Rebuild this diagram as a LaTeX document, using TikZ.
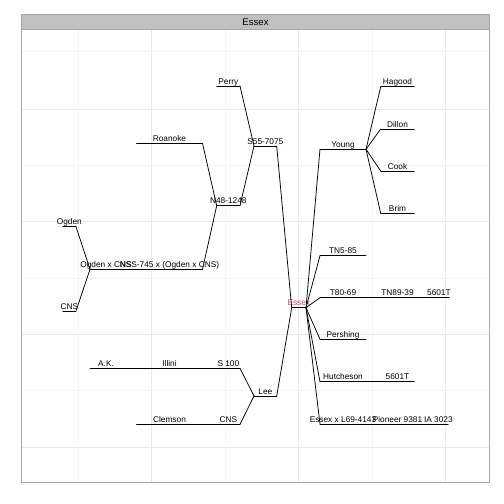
\documentclass[tikz,border=0pt]{standalone}
\usepackage{fontspec}
\setmainfont{Liberation Sans}
\definecolor{stripgray}{RGB}{192,192,192}
\definecolor{framegray}{RGB}{168,168,168}
\definecolor{gridmajor}{RGB}{232,232,232}
\definecolor{gridminor}{RGB}{243,243,243}
\definecolor{selfred}{RGB}{212,70,120}
\tikzset{
  lab/.style={anchor=base, inner sep=0pt, font=\fontsize{8.3}{10}\selectfont},
  link/.style={line width=0.75pt, line cap=round},
}

\begin{document}
\begin{tikzpicture}[x=1pt,y=-1pt]
    \useasboundingbox (0,0) rectangle (504,504);
    % panel, grid and strip
    \fill[white] (21.5,29.5) rectangle (489.5,482);
    \foreach \gx in {78.7,225.7,372} \draw[gridminor,line width=0.5pt] (\gx,29.5) -- (\gx,482);
    \foreach \gx in {151.3,298.3,445.3} \draw[gridmajor,line width=0.7pt] (\gx,29.5) -- (\gx,482);
    \foreach \gy in {51,165,278,390} \draw[gridminor,line width=0.5pt] (21.5,\gy) -- (489.5,\gy);
    \foreach \gy in {109,221.7,334.5,447} \draw[gridmajor,line width=0.7pt] (21.5,\gy) -- (489.5,\gy);
    \draw[framegray,line width=0.8pt] (21.5,29.5) rectangle (489.5,482);
    \draw[framegray,fill=stripgray,line width=0.8pt] (21.5,14) rectangle (489.5,29.5);
    \node[inner sep=0pt,font=\fontsize{9.6}{11}\selectfont] (title) at (255.5,21.9) {Essex};

    % set coordinates, segments and labels
    \coordinate (essex-l) at (291.7,307.7);
    \coordinate (essex-r) at (306,307.7);
    \draw[link] (essex-l) -- (essex-r);
    \node[lab,text=selfred] (essex) at (298.8,305.9) {Essex};
    \foreach \n/\xa/\xb/\y/\t in {
        perry/216.7/240/86/{Perry},
        s55/254/276.7/146/{S55-7075},
        roanoke/136.5/202.5/143.3/{Roanoke},
        n48/216.7/240/205.7/{N48-1248},
        nss/136.5/202.5/269.3/{NSS-745 x (Ogden x CNS)},
        oxc/90/122/269.3/{Ogden x CNS},
        ogden/62.7/76/226.7/{Ogden},
        cnsa/62.7/76/311/{CNS},
        lee/254/276.7/396/{Lee},
        s100/216.7/240/368.3/{S 100},
        illini/136.5/202.5/368.3/{Illini},
        ak/90/122/368.3/{A.K.},
        cnsb/216.7/240/424.3/{CNS},
        clemson/136.5/202.5/424.3/{Clemson},
        young/320/366/149.3/{Young},
        hagood/380.7/414.3/86.7/{Hagood},
        dillon/380.7/414.3/129/{Dillon},
        cook/380.7/414.3/171/{Cook},
        brim/380.7/414.3/213.3/{Brim},
        tnfive/320/366/255.7/{TN5-85},
        teighty/320/366/297.7/{T80-69},
        tneighty/380.7/414.3/297.7/{TN89-39},
        sixa/428.5/449.3/297.7/{5601T},
        pershing/320/366/339.3/{Pershing},
        hutch/320/366/381.7/{Hutcheson},
        sixb/380.7/414.3/381.7/{5601T},
        exl/320/366/424/{Essex x L69-4143},
        pioneer/380.7/414.3/424/{Pioneer 9381},
        ia/428.5/448.3/424/{IA 3023}} {
      \coordinate (\n-l) at (\xa,\y);
      \coordinate (\n-r) at (\xb,\y);
      \draw[link] (\n-l) -- (\n-r);
      \node[lab] (\n) at ({(\xa+\xb)/2},{\y-1.8}) {\t};
    }

    % draw links
    \foreach \a/\b in {perry/s55, n48/s55, s55/essex, lee/essex,
        roanoke/n48, nss/n48, oxc/nss, ogden/oxc, cnsa/oxc,
        s100/lee, cnsb/lee, illini/s100, ak/illini, clemson/cnsb,
        essex/young, essex/tnfive, essex/teighty, essex/pershing,
        essex/hutch, essex/exl, young/hagood, young/dillon, young/cook,
        young/brim, teighty/tneighty, tneighty/sixa, hutch/sixb,
        exl/pioneer, pioneer/ia}
      \draw[link] (\a-r) -- (\b-l);
\end{tikzpicture}
\end{document}
